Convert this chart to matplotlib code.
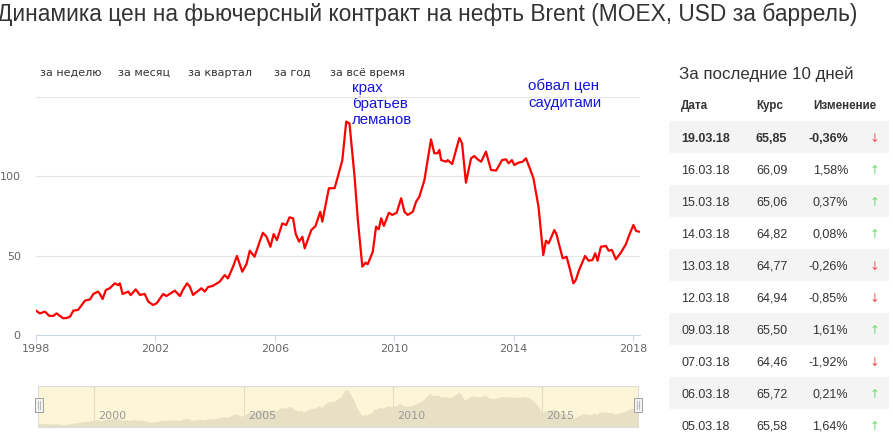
import matplotlib
matplotlib.use("Agg")
import matplotlib.pyplot as plt
from matplotlib.patches import Rectangle

# ---------------- data ----------------
years = [1998.00, 1998.13, 1998.30, 1998.44, 1998.58, 1998.69, 1998.91, 1999.03, 1999.14, 1999.25,
         1999.41, 1999.64, 1999.81, 1999.92, 2000.08, 2000.14, 2000.23, 2000.34, 2000.47, 2000.64,
         2000.75, 2000.81, 2000.90, 2001.09, 2001.17, 2001.34, 2001.48, 2001.64, 2001.76, 2001.92,
         2002.04, 2002.26, 2002.37, 2002.65, 2002.82, 2002.93, 2003.06, 2003.15, 2003.26, 2003.54,
         2003.65, 2003.76, 2003.93, 2004.15, 2004.32, 2004.43, 2004.60, 2004.73, 2004.91, 2005.05,
         2005.16, 2005.32, 2005.47, 2005.60, 2005.72, 2005.85, 2005.96, 2006.07, 2006.25, 2006.38,
         2006.49, 2006.61, 2006.70, 2006.81, 2006.92, 2007.00, 2007.22, 2007.36, 2007.52, 2007.59,
         2007.81, 2008.00, 2008.11, 2008.26, 2008.39, 2008.50, 2008.67, 2008.78, 2008.93, 2009.04,
         2009.11, 2009.28, 2009.39, 2009.48, 2009.56, 2009.65, 2009.82, 2009.93, 2010.08, 2010.23,
         2010.34, 2010.45, 2010.62, 2010.73, 2010.84, 2011.01, 2011.23, 2011.34, 2011.45, 2011.51,
         2011.57, 2011.74, 2011.79, 2011.94, 2012.18, 2012.27, 2012.40, 2012.57, 2012.68, 2012.79,
         2012.91, 2013.07, 2013.24, 2013.41, 2013.61, 2013.74, 2013.83, 2013.94, 2014.02, 2014.16,
         2014.30, 2014.41, 2014.52, 2014.66, 2014.83, 2014.99, 2015.08, 2015.17, 2015.36, 2015.43,
         2015.64, 2015.77, 2015.86, 2016.00, 2016.08, 2016.19, 2016.39, 2016.51, 2016.64, 2016.73,
         2016.81, 2016.92, 2017.09, 2017.18, 2017.29, 2017.42, 2017.59, 2017.76, 2017.87, 2018.01,
         2018.10, 2018.19]
prices = [15.3, 13.6, 14.7, 12.1, 12.0, 13.6, 10.5, 10.7, 11.5, 15.3,
          15.8, 21.6, 22.4, 25.8, 27.3, 25.8, 22.6, 28.3, 29.4, 32.5,
          31.4, 32.5, 25.8, 27.3, 25.1, 28.7, 25.2, 25.8, 21.0, 18.9,
          19.9, 25.8, 24.5, 27.9, 24.5, 28.7, 32.5, 30.5, 25.2, 29.4,
          27.3, 30.1, 31.0, 33.5, 37.7, 35.6, 43.0, 49.7, 39.8, 44.6,
          53.0, 49.2, 57.6, 64.3, 61.8, 55.5, 63.5, 59.7, 70.2, 69.2,
          74.0, 73.4, 63.5, 58.7, 61.8, 54.5, 66.0, 68.5, 77.5, 71.3,
          92.3, 92.3, 99.6, 110.0, 134.2, 133.0, 99.6, 72.3, 43.0, 45.5,
          44.5, 52.4, 68.1, 66.5, 73.4, 68.6, 76.9, 75.5, 76.9, 86.0,
          77.5, 75.5, 77.5, 83.8, 87.0, 97.5, 123.0, 114.3, 114.3, 116.4,
          110.0, 109.0, 110.0, 107.5, 124.0, 120.5, 95.8, 111.1, 112.6, 110.5,
          109.0, 115.3, 103.8, 103.4, 110.0, 110.5, 108.0, 110.0, 106.9, 108.4,
          109.0, 111.1, 105.8, 98.6, 80.7, 50.3, 59.3, 57.6, 66.0, 63.5,
          48.2, 49.2, 43.0, 32.5, 34.6, 40.9, 49.7, 46.7, 47.2, 51.4,
          46.7, 55.5, 56.0, 53.0, 53.5, 47.6, 51.8, 57.2, 62.9, 69.2,
          65.4, 65.0]

x_ticks = [1998, 2002, 2006, 2010, 2014, 2018]
y_ticks = [0, 50, 100, 150]
y_labels = ["0", "50", "100", ""]
nav_ticks = [2000, 2005, 2010, 2015]

title = "Динамика цен на фьючерсный контракт на нефть Brent (MOEX, USD за баррель)"
range_buttons = ["за неделю", "за месяц", "за квартал", "за год", "за всё время"]
annot_lehman = ["крах", "братьев", "леманов"]
annot_saudi = ["обвал цен", "саудитами"]

table_title = "За последние 10 дней"
table_header = ["Дата", "Курс", "Изменение"]
t_dates = ["19.03.18", "16.03.18", "15.03.18", "14.03.18", "13.03.18",
           "12.03.18", "09.03.18", "07.03.18", "06.03.18", "05.03.18"]
t_rates = ["65,85", "66,09", "65,06", "64,82", "64,77",
           "64,94", "65,50", "64,46", "65,72", "65,58"]
t_changes = ["-0,36%", "1,58%", "0,37%", "0,08%", "-0,26%",
             "-0,85%", "1,61%", "-1,92%", "0,21%", "1,64%"]

# ---------------- figure ----------------
W, H = 893, 444
fig = plt.figure(figsize=(W / 100, H / 100), dpi=100)
fig.patch.set_facecolor("white")

def fx(px):
    return px / W

def fy(py):
    return 1 - py / H

# overlay axes in pixel coordinates
ov = fig.add_axes([0, 0, 1, 1], zorder=0)
ov.set_xlim(0, W)
ov.set_ylim(H, 0)
ov.axis("off")

SANS = ["Liberation Sans", "DejaVu Sans"]

# title (its first letter is cut by the left edge, as in the reference)
ov.text(-3, 20.8, title, fontsize=16.4, color="#333333", family=SANS, va="baseline", ha="left")

# range selector buttons
btn_x = [40, 118, 188, 274, 330]
for bx, lab in zip(btn_x, range_buttons):
    ov.text(bx, 75.5, lab, fontsize=8.0, color="#333333", family="DejaVu Sans", va="baseline")

# annotations
for i, s in enumerate(annot_lehman):
    ov.text(352, 91.7 + 16 * i, s, fontsize=10.8, color="#1515d8", family=SANS, va="baseline")
for i, s in enumerate(annot_saudi):
    ov.text(528, 90 + 16.5 * i, s, fontsize=10.8, color="#1515d8", family=SANS, va="baseline")

# table
ov.text(679, 78.5, table_title, fontsize=12.2, color="#333333", family=SANS, va="baseline")
hdr_x = [681, 756, 813]
for hx, h in zip(hdr_x, table_header):
    ov.text(hx, 109.3, h, fontsize=8.4, color="#333333", family=SANS,
            fontweight="bold", va="baseline")
for i in range(len(t_dates)):
    cy = 137 + 32 * i
    if i % 2 == 0:
        ov.add_patch(Rectangle((669, cy - 16), 220, 32, facecolor="#f4f4f4", edgecolor="none", zorder=0))
    fw = "bold" if i == 0 else "normal"
    base = cy + 4.5
    ov.text(681, base, t_dates[i], fontsize=9, color="#333333", family=SANS, fontweight=fw, va="baseline")
    ov.text(756, base, t_rates[i], fontsize=9, color="#333333", family=SANS, fontweight=fw, va="baseline")
    ov.text(848, base, t_changes[i], fontsize=9, color="#333333", family=SANS, fontweight=fw,
            va="baseline", ha="right")
    up = not t_changes[i].startswith("-")
    ov.text(875, cy + 1, "↑" if up else "↓", fontsize=8.5, family="DejaVu Sans",
            color="#66dd66" if up else "#ee5555", ha="center", va="center")

# ---------------- main chart ----------------
ax = fig.add_axes([fx(36), fy(335), fx(640) - fx(36), fy(96.5) - fy(335)], zorder=1)
ax.patch.set_alpha(0)
ax.plot(years, prices, color="#ff0000", lw=1.6, solid_joinstyle="round", zorder=3)
ax.set_xlim(1998.0, 2018.23)
ax.set_ylim(0, 150)
ax.set_yticks(y_ticks)
ax.set_yticklabels(y_labels)
ax.set_xticks(x_ticks)
ax.set_xticklabels([str(t) for t in x_ticks])
for v in y_ticks[1:]:
    ax.axhline(v, color="#e6e6e6", lw=0.8, zorder=1)
for s in ["top", "right", "left"]:
    ax.spines[s].set_visible(False)
ax.spines["bottom"].set_color("#ccd6eb")
ax.spines["bottom"].set_linewidth(0.8)
ax.tick_params(axis="y", length=0, pad=11, labelsize=8, labelcolor="#666666")
ax.tick_params(axis="x", length=4, width=0.8, color="#ccd6eb", pad=2.5, labelsize=8,
               labelcolor="#666666")
for lab in ax.get_xticklabels() + ax.get_yticklabels():
    lab.set_family("DejaVu Sans")

# ---------------- navigator ----------------
nav = fig.add_axes([fx(38), fy(427), fx(638) - fx(38), fy(386) - fy(427)], zorder=1)
nav.set_facecolor("#fdf5d7")
nav.fill_between(years, prices, 0, color="#e8e0c4", lw=0, zorder=2)
nav.set_xlim(1998.11, 2018.2)
nav.set_ylim(1.5, 148)
nav.set_xticks([])
nav.set_yticks([])
for s in nav.spines.values():
    s.set_color("#dddddd")
    s.set_linewidth(0.8)
for t in nav_ticks:
    nav.axvline(t, color="#e3dcc6", lw=0.8, zorder=1)
    nav.annotate(str(t), xy=(t, 0), xycoords=("data", "axes fraction"),
                 xytext=(3, 4), textcoords="offset points", fontsize=8,
                 color="#999999", family="DejaVu Sans", va="bottom", ha="left", zorder=4)

# handles
for hx in (35, 634):
    ov2 = Rectangle((fx(hx), fy(412)), fx(8), fy(398) - fy(412), transform=fig.transFigure,
                    facecolor="#f2f2f2", edgecolor="#a0a0a0", lw=0.7, zorder=5)
    fig.patches.append(ov2)
    for dx in (3, 5):
        fig.lines.append(plt.Line2D([fx(hx + dx), fx(hx + dx)], [fy(409), fy(401)],
                                    transform=fig.transFigure, color="#a0a0a0", lw=0.5, zorder=6))

fig.savefig("out.png", dpi=100, facecolor="white")
